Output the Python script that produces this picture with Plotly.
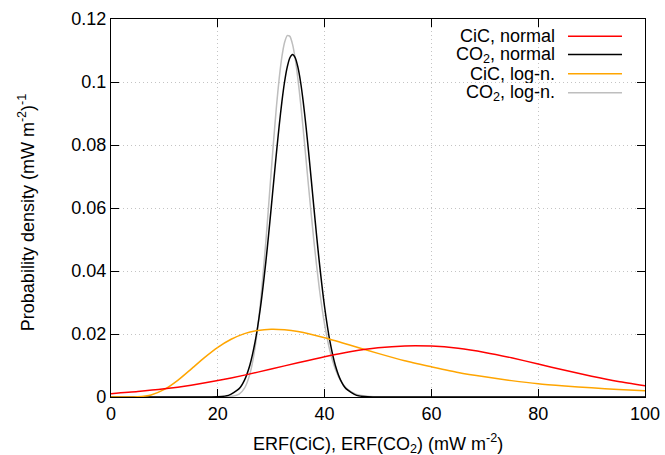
import plotly.graph_objects as go

# ---- data ----
x_cic_normal = [0, 5, 10, 15, 20, 25, 30, 35, 40, 45, 50, 55, 60, 65, 70, 75, 80, 85, 90, 95, 100]
y_cic_normal = [0.00105, 0.00171, 0.00259, 0.00375, 0.00521, 0.00694, 0.00887, 0.01088, 0.01280,
                0.01444, 0.01563, 0.01623, 0.01616, 0.01544, 0.01414, 0.01243, 0.01048, 0.00847,
                0.00657, 0.00489, 0.00355]

x_co2_normal = [0, 18, 20, 22, 24, 25, 26, 27, 28, 29, 29.5, 30, 30.5, 31, 31.5, 32, 32.5, 33, 33.5, 34,
                34.5, 35, 35.5, 36, 36.5, 37, 37.5, 38, 38.5, 39, 40, 41, 42, 43, 44, 46, 48, 50, 100]
y_co2_normal = [0, 0.000006, 0.000075, 0.00052, 0.00266, 0.00538, 0.0101, 0.01763, 0.02857, 0.04297,
                0.05126, 0.06003, 0.06899, 0.07783, 0.0862, 0.0937, 0.1000, 0.1047, 0.1077, 0.1087,
                0.1077, 0.1047, 0.1000, 0.0937, 0.0862, 0.07783, 0.06899, 0.06003, 0.05126, 0.04297,
                0.02857, 0.01763, 0.0101, 0.00538, 0.00266, 0.00052, 0.000075, 0.000006, 0]

x_cic_logn = [0, 2.5, 5, 7.5, 10, 12.5, 15, 17.5, 20, 22.5, 25, 27.5, 30, 32.5, 35, 40, 45, 50,
              55, 60, 65, 70, 75, 80, 85, 90, 95, 100]
y_cic_logn = [0, 0, 0.00007, 0.00066, 0.0024, 0.00529, 0.00886, 0.01251, 0.01577, 0.01833, 0.02012,
              0.02114, 0.02152, 0.02135, 0.02077, 0.01882, 0.01636, 0.01384, 0.0115, 0.0096, 0.0078,
              0.0064, 0.0052, 0.0042, 0.0035, 0.0029, 0.0024, 0.0020]

x_co2_logn = [0, 20, 22, 24, 25, 26, 27, 28, 29, 30, 30.5, 31, 31.5, 32, 32.5, 33, 33.5, 34, 34.5,
              35, 35.5, 36, 36.5, 37, 38, 39, 40, 41, 42, 43, 44, 45, 46, 48, 50, 55, 100]
y_co2_logn = [0, 0.000001, 0.000046, 0.00089, 0.00279, 0.00727, 0.01595, 0.03008, 0.04938, 0.07153,
              0.08243, 0.09253, 0.10118, 0.10796, 0.11254, 0.11473, 0.11449, 0.11194, 0.10731,
              0.10102, 0.09338, 0.08485, 0.07585, 0.06674, 0.04942, 0.03461, 0.02305, 0.01464,
              0.008905, 0.005207, 0.00293, 0.001595, 0.000842, 0.000214, 0.000049, 0.000001, 0]

series_names = ["CiC, normal", "CO<sub>2</sub>, normal", "CiC, log-n.", "CO<sub>2</sub>, log-n."]
series_colors = ["#ff0000", "#000000", "#ffa500", "#bebebe"]

x_ticks = [0, 20, 40, 60, 80, 100]
x_ticktext = ["0", "20", "40", "60", "80", "100"]
y_ticks = [0, 0.02, 0.04, 0.06, 0.08, 0.1, 0.12]
y_ticktext = ["0", "0.02", "0.04", "0.06", "0.08", "0.1", "0.12"]

FONT = "Liberation Sans, Arial, sans-serif"
FS = 18

fig = go.Figure()
data = [(x_cic_normal, y_cic_normal), (x_co2_normal, y_co2_normal),
        (x_cic_logn, y_cic_logn), (x_co2_logn, y_co2_logn)]
# draw order: grey underneath black
order = [3, 1, 2, 0]
for i in order:
    xs, ys = data[i]
    fig.add_trace(go.Scatter(x=xs, y=ys, mode="lines", name=series_names[i],
                             line=dict(color=series_colors[i], width=1.5, shape="spline", smoothing=0.6),
                             showlegend=False))

axis_common = dict(showline=True, linecolor="black", linewidth=1.2, mirror="allticks",
                   ticks="inside", ticklen=8, tickcolor="black", tickwidth=1,
                   showgrid=True, gridcolor="#c4c4c4", griddash="1px,3px", gridwidth=1,
                   zeroline=False, automargin=False,
                   tickfont=dict(family=FONT, size=FS, color="black"))

fig.update_xaxes(range=[0, 100], tickvals=x_ticks, ticktext=x_ticktext, **axis_common)
fig.update_yaxes(range=[0, 0.12], tickvals=y_ticks, ticktext=y_ticktext, **axis_common)

annotations = [
    dict(text="ERF(CiC), ERF(CO<sub>2</sub>) (mW m<sup>-2</sup>)", xref="paper", yref="paper",
         x=0.5, y=-0.124, xanchor="center", yanchor="middle", showarrow=False,
         font=dict(family=FONT, size=FS, color="black")),
    dict(text="Probability density (mW m<sup>-2</sup>)<sup>-1</sup>", xref="paper", yref="paper",
         x=-0.158, y=0.488, xanchor="center", yanchor="middle", textangle=-90, showarrow=False,
         font=dict(family=FONT, size=FS, color="black")),
]
shapes = []
row_y = [0.9545, 0.906, 0.855, 0.805]
for k in range(4):
    annotations.append(dict(text=series_names[k], xref="paper", yref="paper",
                            x=0.8346, y=row_y[k], xanchor="right", yanchor="middle",
                            showarrow=False, height=18, valign="middle",
                            font=dict(family=FONT, size=FS, color="black")))
    shapes.append(dict(type="line", xref="paper", yref="paper", x0=0.8558, x1=0.9569,
                       y0=row_y[k], y1=row_y[k], line=dict(color=series_colors[k], width=1.5)))

fig.update_layout(width=665, height=455, margin=dict(l=111, r=20, t=19, b=58, autoexpand=False),
                  plot_bgcolor="white", paper_bgcolor="white",
                  font=dict(family=FONT, size=FS, color="black"),
                  annotations=annotations, shapes=shapes)

fig.write_html("out.html")
